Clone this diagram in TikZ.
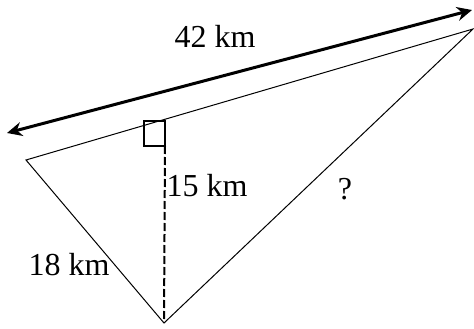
\documentclass[tikz,border=0pt]{standalone}
\usepackage{fontspec}
\setmainfont{Liberation Serif}
\usetikzlibrary{arrows.meta}
\begin{document}
\begin{tikzpicture}[x=1pt,y=-1pt,
  lbl/.style={inner sep=0pt,font=\fontsize{32}{32}\selectfont},
  thin edge/.style={line width=1pt,line join=miter},
  road/.style={line width=3pt,{Stealth[length=15pt,width=14pt]}-{Stealth[length=15pt,width=14pt]}},
  alt/.style={line width=2pt,dash pattern=on 8pt off 3pt},
  rightangle/.style={line width=2pt}]
\useasboundingbox (0,0) rectangle (474,329);
\coordinate (L) at (26,160);
\coordinate (R) at (473,29);
\coordinate (B) at (164,323);
\coordinate (AL) at (7,133);
\coordinate (AR) at (472,10);
\coordinate (F) at (165,146);
\draw[road] (AL) -- (AR);
\draw[thin edge] (L) -- (R) -- (B) -- cycle;
\draw[rightangle] (144,121) rectangle (F);
\draw[alt] (F) -- (B);
\node[lbl] (d42) at (215,36.5) {42 km};
\node[lbl] (d15) at (207,186) {15 km};
\node[lbl] (d18) at (69,265) {18 km};
\node[lbl] (q) at (345,189) {?};
\end{tikzpicture}
\end{document}
